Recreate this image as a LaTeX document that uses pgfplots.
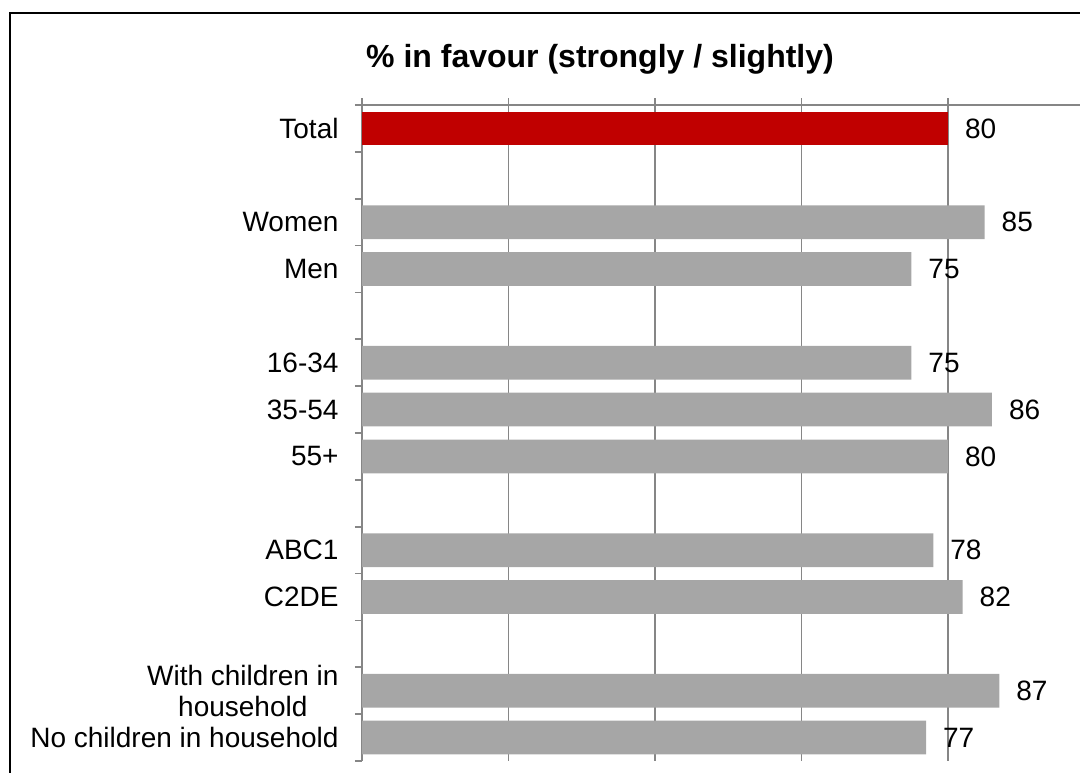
\documentclass[border=0pt]{standalone}
\usepackage{pgfplots}
\pgfplotsset{compat=1.18}
\usepackage{pgfplotstable}
\usepackage{fontspec}
\setmainfont{Liberation Sans}

\definecolor{barred}{HTML}{C00000}
\definecolor{bargray}{HTML}{A6A6A6}
\definecolor{gridgray}{HTML}{868686}

% slot positions (0 = top row); empty slots separate the groups
\pgfplotstableread{
pos value
0 80
}\totaltable
\pgfplotstableread{
pos value
2 85
3 75
5 75
6 86
7 80
9 78
10 82
12 87
13 77
}\grouptable

\begin{document}
\begin{tikzpicture}
\useasboundingbox (0pt,0pt) rectangle (540pt,386pt);
\clip (0pt,0pt) rectangle (540pt,386pt);
\draw[line width=0.7pt] (5pt,-20pt) rectangle (560pt,379.5pt);
\node[font=\bfseries\fontsize{16}{19}\selectfont] at (300pt,356.3pt) {\% in favour (strongly / slightly)};
\begin{axis}[
  at={(181pt,333.5pt)}, anchor=north west,
  scale only axis, width=366.25pt, height=328pt,
  xbar, bar width=0.72, bar shift=0pt,
  xmin=0, xmax=100, ymin=-0.5, ymax=13.5, y dir=reverse,
  axis x line*=top, axis y line*=left,
  axis line style={gridgray, line width=0.8pt},
  tick style={gridgray, line width=0.8pt},
  tick align=outside, major tick length=3.5pt,
  xtick={0,20,...,100}, xticklabels={},
  xmajorgrids, major grid style={gridgray, line width=0.8pt},
  ytick={-0.5,0.5,...,13.5}, yticklabels={},
  extra y ticks={0,2,3,5,6,7,9,10,12,13},
  extra y tick labels={Total, Women, Men, 16-34, 35-54, 55+, ABC1, C2DE, {With children in\\household}, No children in household},
  extra y tick style={major tick length=0pt},
  yticklabel style={font=\fontsize{14}{15.5}\selectfont, align=center, xshift=-8.2pt},
  point meta=x,
  nodes near coords,
  nodes near coords style={font=\fontsize{14}{16}\selectfont, anchor=west, xshift=5pt, text=black},
  /pgf/number format/assume math mode=true,
]
\addplot[fill=barred, draw=none] table[x=value, y=pos] {\totaltable};
\addplot[fill=bargray, draw=none] table[x=value, y=pos] {\grouptable};
\end{axis}
\end{tikzpicture}
\end{document}
